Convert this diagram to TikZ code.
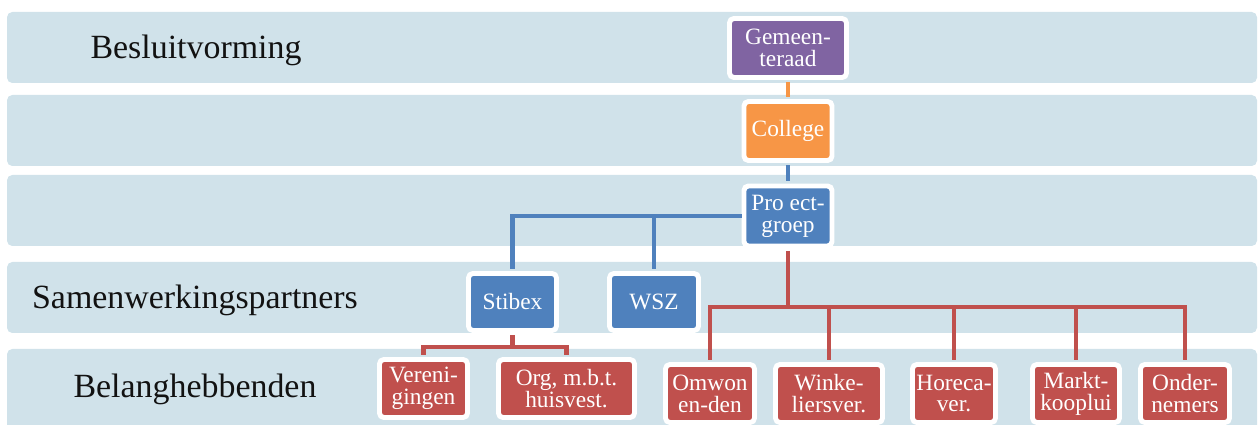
\documentclass[tikz,border=0pt]{standalone}
\usepackage{fontspec}
\setmainfont{Liberation Serif}
\usepackage{tikz}
\usepackage{xcolor}
\usetikzlibrary{shapes, positioning}

\definecolor{bandblue}{HTML}{D0E2EA}
\definecolor{gpurple}{HTML}{8064A2}
\definecolor{corange}{HTML}{F79646}
\definecolor{pblue}{HTML}{4F81BD}
\definecolor{bred}{HTML}{C0504D}

\begin{document}
\begin{tikzpicture}[x=0.02cm, y=-0.02cm,
        band/.style={fill=bandblue, rounded corners=3pt},
        lvl/.style={font=\fontsize{19.3}{22}\selectfont, text=black!93},
        box/.style={draw=white, line width=2.8pt, rounded corners=2.5pt, inner sep=0pt,
            text=white, align=center, font=\fontsize{13.3}{12.5}\selectfont},
        link/.style={line width=2.8pt, shorten <=1.4pt, shorten >=1.4pt}]
        \useasboundingbox (0, 0) rectangle (1258, 425);

        % banden
        \fill[band] (7, 12) rectangle (1257, 83);
        \fill[band] (7, 95) rectangle (1257, 166);
        \fill[band] (7, 175) rectangle (1257, 246);
        \fill[band] (7, 262) rectangle (1257, 333);
        \fill[band] (7, 349) rectangle (1257, 440);

        \node[lvl] at (196, 50) (besl) {Besluitvorming};
        \node[lvl] at (195, 300) (samen) {Samenwerkingspartners};
        \node[lvl] at (195, 389) (belang) {Belanghebbenden};

        % knopen
        \node[box, fill=gpurple, minimum width=117*0.02cm, minimum height=59*0.02cm] at (788, 48) (raad) {Gemeen-\\teraad};
        \node[box, fill=corange, minimum width=88*0.02cm, minimum height=59*0.02cm] at (788, 131) (coll) {College};
        \node[box, fill=pblue, minimum width=88*0.02cm, minimum height=60*0.02cm] at (788, 216) (proj) {Pro ect-\\groep};

        \node[box, fill=pblue, minimum width=88*0.02cm, minimum height=57*0.02cm] at (512.5, 302) (stib) {Stibex};
        \node[box, fill=pblue, minimum width=89*0.02cm, minimum height=57*0.02cm] at (654, 302) (wsz) {WSZ};

        \node[box, fill=bred, minimum width=88*0.02cm, minimum height=58*0.02cm] at (423.5, 388.5) (ver) {Vereni-\\gingen};
        \node[box, fill=bred, minimum width=136*0.02cm, minimum height=58*0.02cm] at (566.5, 388.5) (org) {Org, m.b.t.\\huisvest.};
        \node[box, fill=bred, minimum width=89*0.02cm, minimum height=58*0.02cm] at (710, 393.5) (omw) {Omwon\\en-den};
        \node[box, fill=bred, minimum width=107*0.02cm, minimum height=58*0.02cm] at (829, 393.5) (wink) {Winke-\\liersver.};
        \node[box, fill=bred, minimum width=83*0.02cm, minimum height=58*0.02cm] at (954, 393.5) (hor) {Horeca-\\ver.};
        \node[box, fill=bred, minimum width=87*0.02cm, minimum height=58*0.02cm] at (1076, 393.5) (markt) {Markt-\\kooplui};
        \node[box, fill=bred, minimum width=89*0.02cm, minimum height=58*0.02cm] at (1185, 393.5) (onder) {Onder-\\nemers};

        % lijnen
        \coordinate (sbus) at (512.5, 347);
        \coordinate (rbus) at (788, 307);

        \draw[link, corange] (raad) -- (coll);
        \draw[link, pblue] (coll) -- (proj);
        \draw[link, pblue, shorten <=0pt] (proj.west) -| (stib);
        \draw[link, pblue, shorten <=0pt] (proj.west -| wsz) -- (wsz);
        \draw[link, bred, shorten >=0pt] (proj) -- (rbus);
        \foreach \n in {omw, wink, hor, markt, onder}
            \draw[link, bred, shorten <=0pt] (rbus) -| (\n);
        \draw[link, bred, shorten >=0pt] (stib) -- (sbus);
        \foreach \n in {ver, org}
            \draw[link, bred, shorten <=0pt] (sbus) -| (\n);
    \end{tikzpicture}
\end{document}
